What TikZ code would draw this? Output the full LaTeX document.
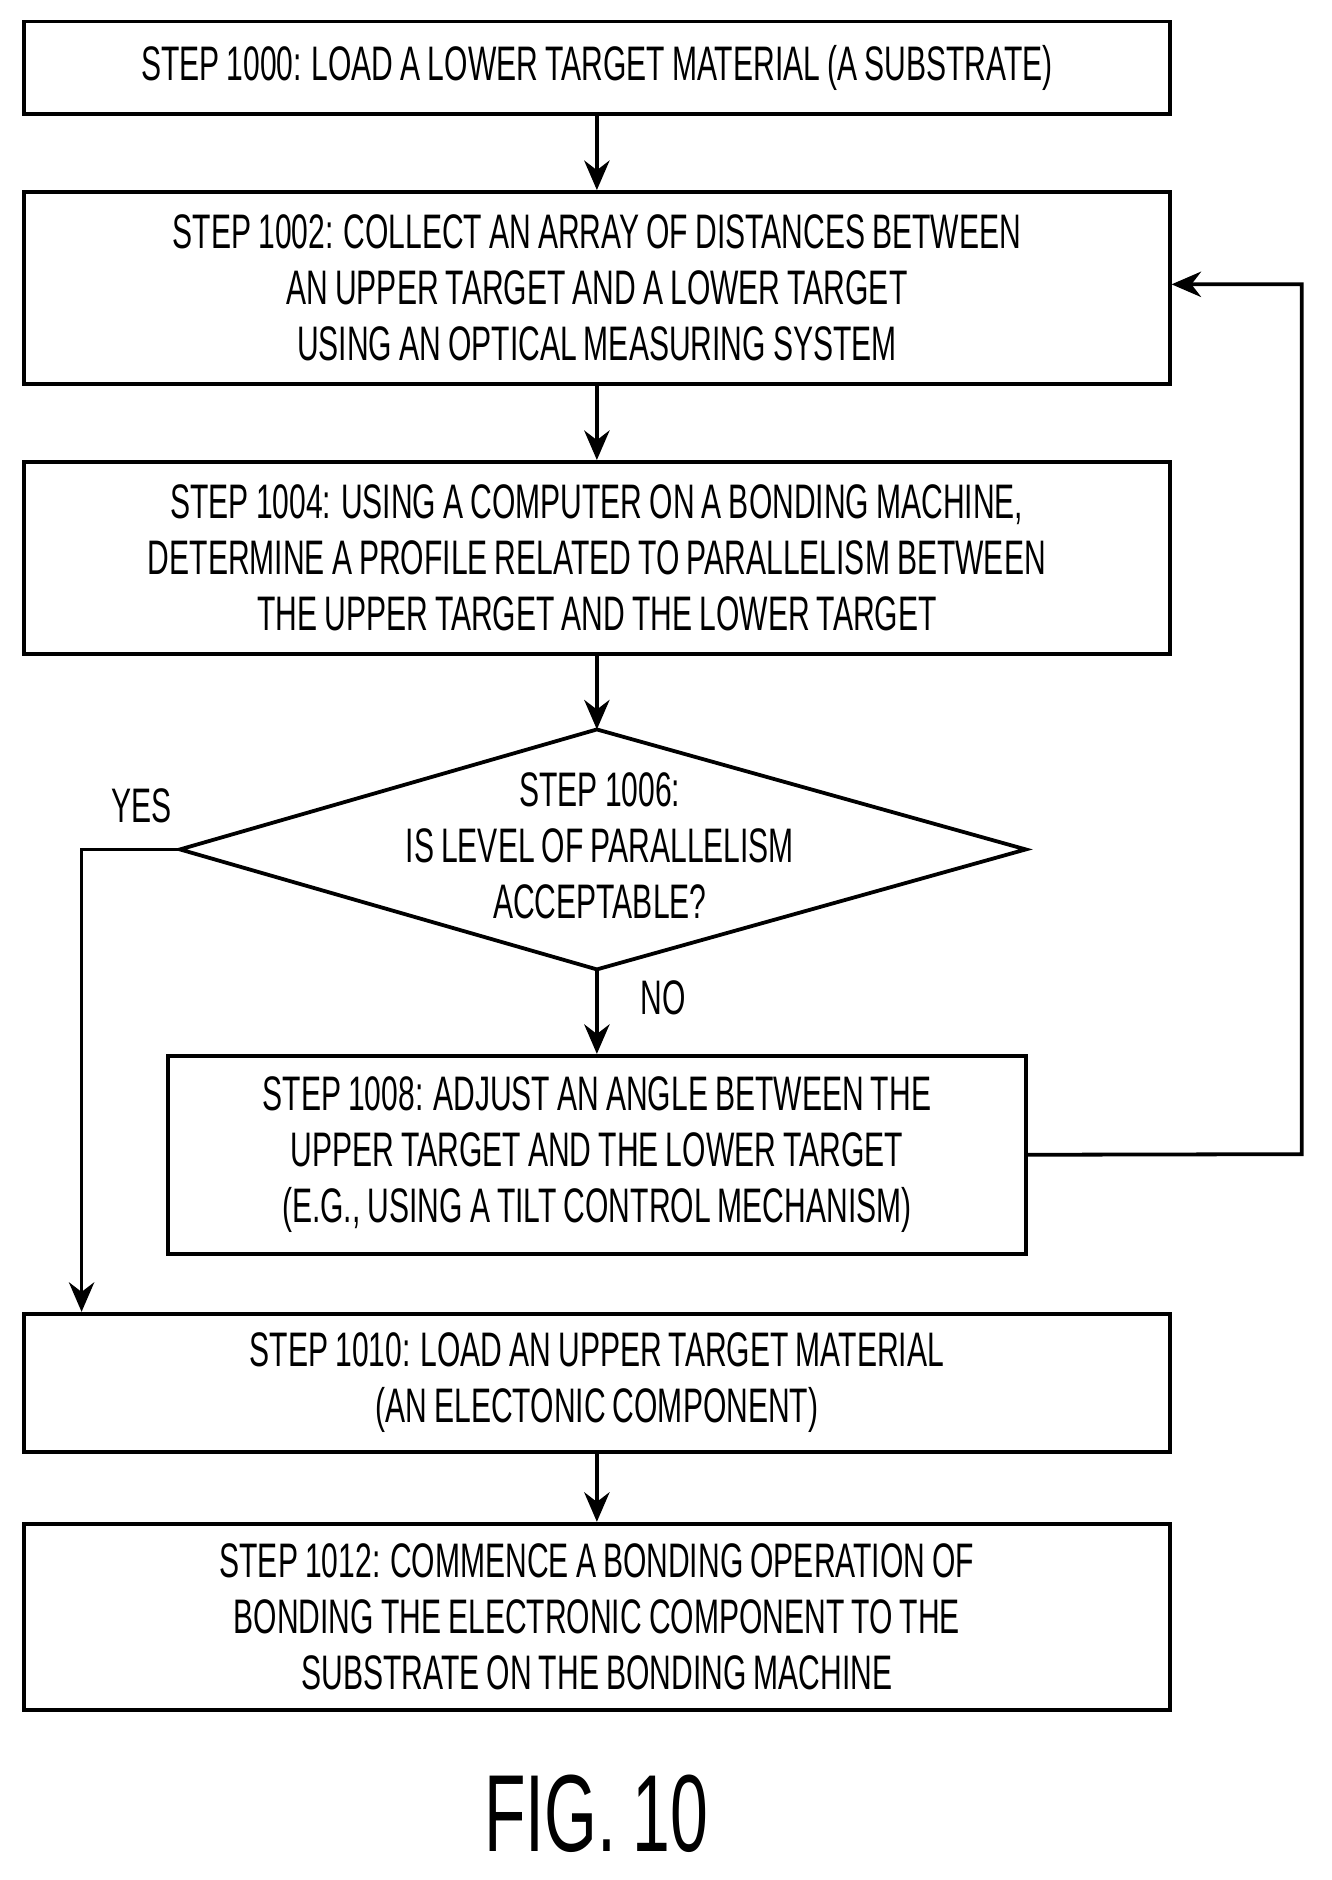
\documentclass[tikz,border=0pt]{standalone}
\usepackage{fontspec}
\setmainfont[FakeStretch=0.62,WordSpace=0.85]{Liberation Sans}
\usetikzlibrary{arrows.meta}
\begin{document}
\begin{tikzpicture}[x=0.02cm,y=-0.02cm,
 box/.style={draw,line width=1.8pt,align=center,font=\fontsize{23}{26.5}\selectfont,inner sep=0pt,minimum width=19.1cm},
 arr/.style={line width=1.8pt,-{Stealth[length=14pt,width=12pt]}},
 lbl/.style={font=\fontsize{23}{26.5}\selectfont}]
\useasboundingbox (0,0) rectangle (1110,1567);
\node[box,minimum height=1.54cm] (b0) at (497.5,56.5) {STEP 1000: LOAD A LOWER TARGET MATERIAL (A SUBSTRATE)};
\node[box,minimum height=3.2cm] (b2) at (497.5,240) {STEP 1002: COLLECT AN ARRAY OF DISTANCES BETWEEN\\AN UPPER TARGET AND A LOWER TARGET\\USING AN OPTICAL MEASURING SYSTEM};
\node[box,minimum height=3.2cm] (b4) at (497.5,465) {STEP 1004: USING A COMPUTER ON A BONDING MACHINE,\\DETERMINE A PROFILE RELATED TO PARALLELISM BETWEEN\\THE UPPER TARGET AND THE LOWER TARGET};
\coordinate (dt) at (497.5,608); \coordinate (db) at (497.5,808);
\coordinate (dl) at (150,708); \coordinate (dr) at (855,708);
\draw[line width=1.8pt] (dt)--(dr)--(db)--(dl)--cycle;
\node[lbl,align=center] (d6) at (500,705) {STEP 1006:\\IS LEVEL OF PARALLELISM\\ACCEPTABLE?};
\node[box,minimum width=14.3cm,minimum height=3.3cm] (b8) at (497.5,962.5) {STEP 1008: ADJUST AN ANGLE BETWEEN THE\\UPPER TARGET AND THE LOWER TARGET\\(E.G., USING A TILT CONTROL MECHANISM)};
\node[box,minimum height=2.3cm] (b10) at (497.5,1152.5) {STEP 1010: LOAD AN UPPER TARGET MATERIAL\\(AN ELECTONIC COMPONENT)};
\node[box,minimum height=3.1cm] (b12) at (497.5,1347.5) {STEP 1012: COMMENCE A BONDING OPERATION OF\\BONDING THE ELECTRONIC COMPONENT TO THE\\SUBSTRATE ON THE BONDING MACHINE};
\node[font=\fontsize{52}{56}\selectfont] (fig) at (497,1512) {FIG.~10};
\draw[arr] (b0) -- (b2);
\draw[arr] (b2) -- (b4);
\draw[arr] (b4) -- (dt);
\draw[arr] (db) -- (b8);
\draw[arr] (b10) -- (b12);
\coordinate (c1) at (1085,962); \coordinate (c2) at (1085,237);
\draw[arr] (b8.east) -- (c1) -- (c2) -- (b2.east |- c2);
\coordinate (c3) at (68,708);
\draw[arr] (dl) -- (c3) -- (c3 |- b10.north);
\node[lbl] (yes) at (118,672) {YES};
\node[lbl] (no) at (553,832) {NO};
\end{tikzpicture}
\end{document}
